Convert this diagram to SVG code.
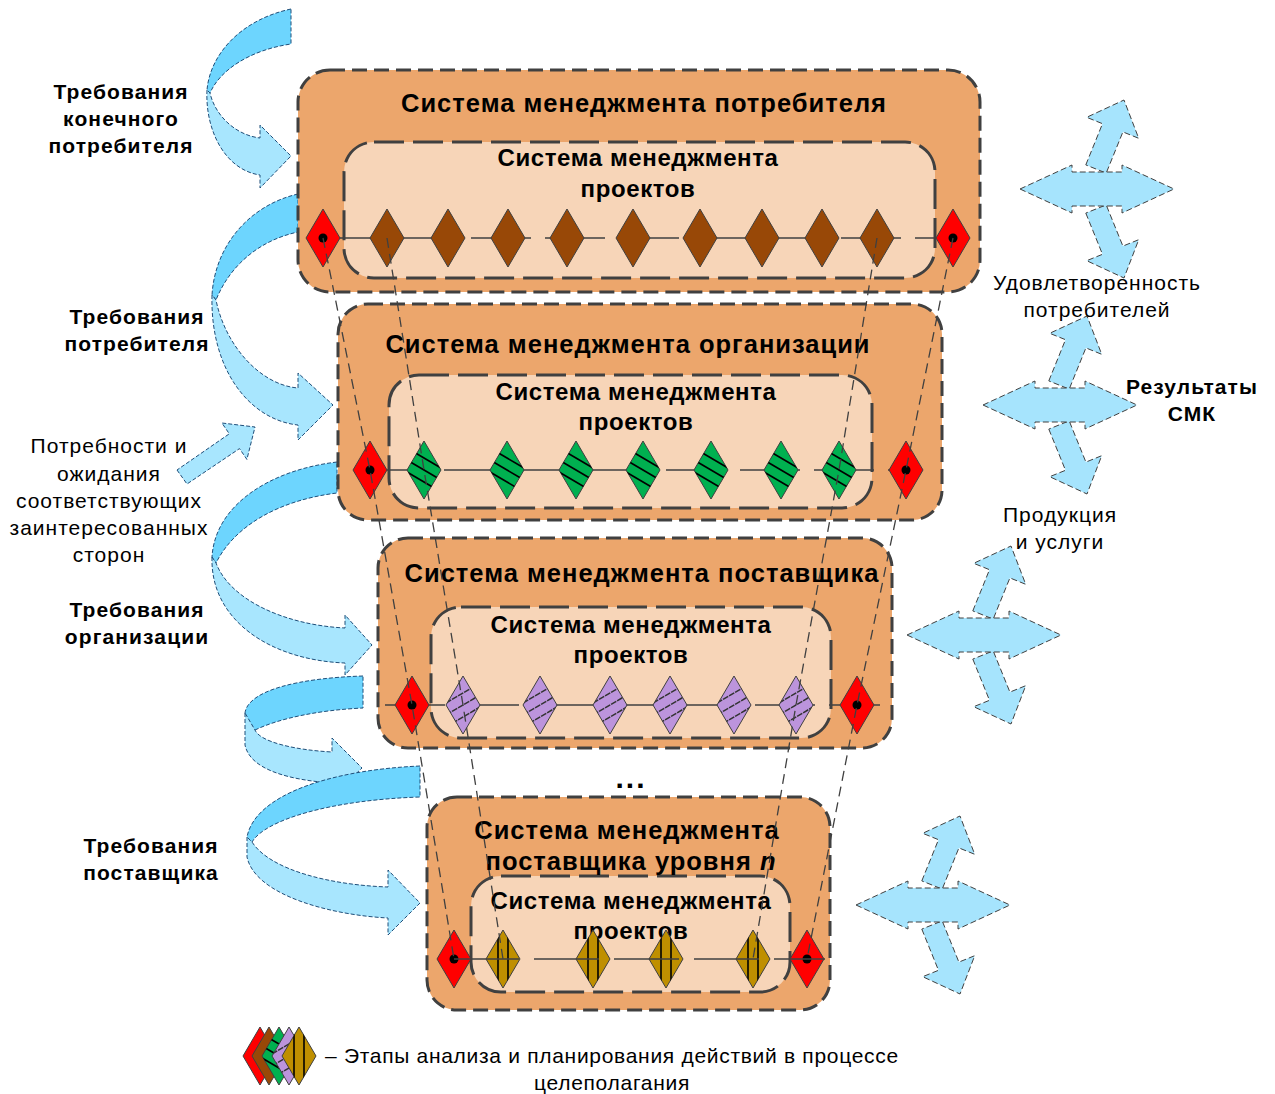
<svg xmlns="http://www.w3.org/2000/svg" xmlns:xlink="http://www.w3.org/1999/xlink" width="1275" height="1094" viewBox="0 0 1275 1094">
<style>
.outer{fill:#ECA66C;stroke:#404040;stroke-width:3;stroke-dasharray:15 7}
.inner{fill:#F7D5B8;stroke:#404040;stroke-width:3;stroke-dasharray:30 9}
.t{font-family:"Liberation Sans",Arial,sans-serif;font-weight:bold;fill:#000;text-anchor:middle}
.tt{font-size:25.5px;letter-spacing:1px}
.ti{font-size:24px;letter-spacing:0.6px}
.lb{font-family:"Liberation Sans",Arial,sans-serif;font-size:21px;fill:#000;text-anchor:middle;letter-spacing:1px}
.bold{font-weight:bold;letter-spacing:1.1px}
.start{text-anchor:start;letter-spacing:0.7px}
.dk{fill:#6DD5FE;stroke:#1F4E79;stroke-width:1;stroke-dasharray:4 2}
.lt{fill:#A8E6FE;stroke:#1F4E79;stroke-width:1;stroke-dasharray:4 2}
.qa{fill:#A6E4FD;stroke:#404040;stroke-width:1;stroke-dasharray:6 3}
.hl{fill:none;stroke:#404040;stroke-width:1.5}
.cn{fill:none;stroke:#404040;stroke-width:1.3;stroke-dasharray:10 6}
.dm{stroke:#404040;stroke-width:1}
.st{stroke:#000;stroke-width:1.6}
</style>
<defs>
<path id="dia" d="M0,-29 L17,0 L0,29 L-17,0 Z"/>
<clipPath id="dclip"><path d="M0,-29 L17,0 L0,29 L-17,0 Z"/></clipPath>
<g id="red"><use href="#dia" fill="#FF0000" class="dm"/><circle cx="0" cy="0" r="4.5" fill="#000"/></g>
<g id="brown"><use href="#dia" fill="#984807" class="dm"/></g>
<g id="green"><use href="#dia" fill="#00B050" class="dm"/><g clip-path="url(#dclip)" class="st"><line x1="-17" y1="-22" x2="17" y2="-2"/><line x1="-17" y1="-10" x2="17" y2="10"/><line x1="-17" y1="2" x2="17" y2="22"/></g></g>
<g id="purple"><use href="#dia" fill="#BC94DC" class="dm"/><g clip-path="url(#dclip)" stroke="#333" stroke-width="1.5" stroke-dasharray="6 1"><line x1="-17" y1="-2" x2="17" y2="-22"/><line x1="-17" y1="10" x2="17" y2="-10"/><line x1="-17" y1="22" x2="17" y2="2"/></g></g>
<g id="gold"><use href="#dia" fill="#BF8F00" class="dm"/><g clip-path="url(#dclip)" class="st"><line x1="-5" y1="-29" x2="-5" y2="29"/><line x1="5" y1="-29" x2="5" y2="29"/></g></g>
<g id="quad">
<polygon class="qa" points="-11.2,-24.1 5.5,-65.3 -10.3,-71.7 27,-89 41.7,-50.7 25.9,-57.1 9.2,-15.9"/>
<polygon class="qa" points="-11.2,24.1 5.5,65.3 -10.3,71.7 27,89 41.7,50.7 25.9,57.1 9.2,15.9"/>
<polygon class="qa" points="-77,0 -25,-24 -25,-17 25,-17 25,-24 77,0 25,24 25,17 -25,17 -25,24"/>
</g>
</defs>
<rect width="1275" height="1094" fill="#fff"/>

<g id="input-arrows">
<path class="dk" d="M291,9 C240,20 210,55 207,90 L210,93 C220,70 250,50 291,44 Z"/>
<path class="lt" d="M207,90 C205,130 225,170 260,175 L260,188 L291,156 L260,125 L260,138 C235,135 215,115 210,93 Z"/>
<path class="dk" d="M298,194 C250,205 215,245 212,295 L216,300 C230,265 260,240 298,232 Z"/>
<path class="lt" d="M212,295 C210,370 250,420 298,425 L298,440 L333,405 L298,373 L298,388 C260,385 225,345 216,300 Z"/>
<polygon class="lt" points="177,470 187,484 239.5,448.6 246.9,459.4 255,427 221.9,423 229.3,433.8"/>
<path class="dk" d="M337,462 C270,470 215,505 212,557 L216,563 C235,525 280,500 337,493 Z"/>
<path class="lt" d="M212,557 C210,620 270,660 345,663 L345,675 L372,645 L345,615 L345,628 C285,625 230,600 216,563 Z"/>
<path class="dk" d="M363,676 C300,678 248,690 245,713 C247,722 250,727 255,730 C280,718 320,710 363,708 Z"/>
<path class="lt" d="M245,713 L245,745 C250,770 290,780 332,783 L332,797 L362,768 L332,738 L332,752 C295,750 260,742 255,730 Z"/>
<path class="dk" d="M420,766 C330,770 255,795 247,837 L252,842 C265,820 330,800 420,797 Z"/>
<path class="lt" d="M247,837 L247,857 C255,895 330,915 388,918 L388,935 L420,903 L388,870 L388,887 C330,885 270,870 252,842 Z"/>
</g>

<g id="output-arrows">
<use href="#quad" x="1097" y="189"/>
<use href="#quad" x="1060" y="405"/>
<use href="#quad" x="984" y="635"/>
<use href="#quad" x="933" y="905"/>
</g>

<g id="labels">
<text class="lb bold" x="121" y="99">Требования</text>
<text class="lb bold" x="121" y="126">конечного</text>
<text class="lb bold" x="121" y="153">потребителя</text>
<text class="lb bold" x="137" y="324">Требования</text>
<text class="lb bold" x="137" y="351">потребителя</text>
<text class="lb" x="109" y="453">Потребности и</text>
<text class="lb" x="109" y="481">ожидания</text>
<text class="lb" x="109" y="508">соответствующих</text>
<text class="lb" x="109" y="535">заинтересованных</text>
<text class="lb" x="109" y="562">сторон</text>
<text class="lb bold" x="137" y="617">Требования</text>
<text class="lb bold" x="137" y="644">организации</text>
<text class="lb bold" x="151" y="853">Требования</text>
<text class="lb bold" x="151" y="880">поставщика</text>
<text class="lb" x="1097" y="290">Удовлетворенность</text>
<text class="lb" x="1097" y="317">потребителей</text>
<text class="lb bold" x="1192" y="394">Результаты</text>
<text class="lb bold" x="1192" y="421">СМК</text>
<text class="lb" x="1060" y="522">Продукция</text>
<text class="lb" x="1060" y="549">и услуги</text>
</g>

<g id="level1">
<rect class="outer" x="298" y="70" width="682" height="222" rx="32"/>
<rect class="inner" x="344" y="142" width="591" height="136" rx="30"/>
<text class="t tt" x="644" y="112">Система менеджмента потребителя</text>
<text class="t ti" x="638" y="166">Система менеджмента</text>
<text class="t ti" x="638" y="197">проектов</text>
<line class="hl" x1="323" y1="238" x2="953" y2="238" stroke-dasharray="60 14"/>
<use href="#red" x="323" y="238"/>
<use href="#brown" x="387" y="238"/><use href="#brown" x="448" y="238"/><use href="#brown" x="508" y="238"/><use href="#brown" x="567" y="238"/><use href="#brown" x="633" y="238"/><use href="#brown" x="700" y="238"/><use href="#brown" x="762" y="238"/><use href="#brown" x="822" y="238"/><use href="#brown" x="877" y="238"/>
<use href="#red" x="953" y="238"/>
</g>

<g id="level2">
<rect class="outer" x="338" y="304" width="604" height="216" rx="30"/>
<rect class="inner" x="389" y="375" width="483" height="133" rx="30"/>
<text class="t tt" x="628" y="353">Система менеджмента организации</text>
<text class="t ti" x="636" y="400">Система менеджмента</text>
<text class="t ti" x="636" y="430">проектов</text>
<line class="hl" x1="370" y1="470" x2="906" y2="470" stroke-dasharray="60 14"/>
<use href="#red" x="370" y="470"/>
<use href="#green" x="424" y="470"/><use href="#green" x="507" y="470"/><use href="#green" x="576" y="470"/><use href="#green" x="643" y="470"/><use href="#green" x="711" y="470"/><use href="#green" x="781" y="470"/><use href="#green" x="839" y="470"/>
<use href="#red" x="906" y="470"/>
</g>

<g id="level3">
<rect class="outer" x="378" y="538" width="514" height="210" rx="30"/>
<rect class="inner" x="431" y="607" width="400" height="131" rx="30"/>
<text class="t tt" x="642" y="582">Система менеджмента поставщика</text>
<text class="t ti" x="631" y="633">Система менеджмента</text>
<text class="t ti" x="631" y="663">проектов</text>
<line class="hl" x1="385" y1="705" x2="880" y2="705" stroke-dasharray="60 14"/>
<use href="#red" x="412" y="705"/>
<use href="#purple" x="463" y="705"/><use href="#purple" x="540" y="705"/><use href="#purple" x="610" y="705"/><use href="#purple" x="670" y="705"/><use href="#purple" x="734" y="705"/><use href="#purple" x="796" y="705"/>
<use href="#red" x="857" y="705"/>
</g>

<text class="t" x="631" y="788" font-size="30" letter-spacing="2">...</text>

<g id="level4">
<rect class="outer" x="427" y="797" width="403" height="213" rx="30"/>
<rect class="inner" x="471" y="876" width="319" height="116" rx="30"/>
<text class="t tt" x="627" y="839">Система менеджмента</text>
<text class="t tt" x="631" y="870">поставщика уровня <tspan font-style="italic">n</tspan></text>
<text class="t ti" x="631" y="909">Система менеджмента</text>
<text class="t ti" x="631" y="939">проектов</text>
<use href="#red" x="454" y="959"/>
<use href="#gold" x="503" y="959"/><use href="#gold" x="593" y="959"/><use href="#gold" x="666" y="959"/><use href="#gold" x="753" y="959"/>
<use href="#red" x="807" y="959"/>
<line class="hl" x1="454" y1="959" x2="825" y2="959" stroke-dasharray="65 15"/>
</g>

<g id="connectors">
<polyline class="cn" points="323,238 370,470 412,705 454,959"/>
<polyline class="cn" points="387,238 424,470 463,705 503,959"/>
<polyline class="cn" points="953,238 906,470 857,705 807,959"/>
<polyline class="cn" points="877,238 839,470 796,705 753,959"/>
</g>

<g id="legend">
<use href="#red" x="260" y="1056"/>
<use href="#brown" x="269" y="1056"/>
<use href="#green" x="279" y="1056"/>
<use href="#purple" x="289" y="1056"/>
<use href="#gold" x="299" y="1056"/>
<text class="lb start" x="325" y="1063">– Этапы анализа и планирования действий в процессе</text>
<text class="lb" x="612" y="1090" style="letter-spacing:0.7px">целеполагания</text>
</g>
</svg>
